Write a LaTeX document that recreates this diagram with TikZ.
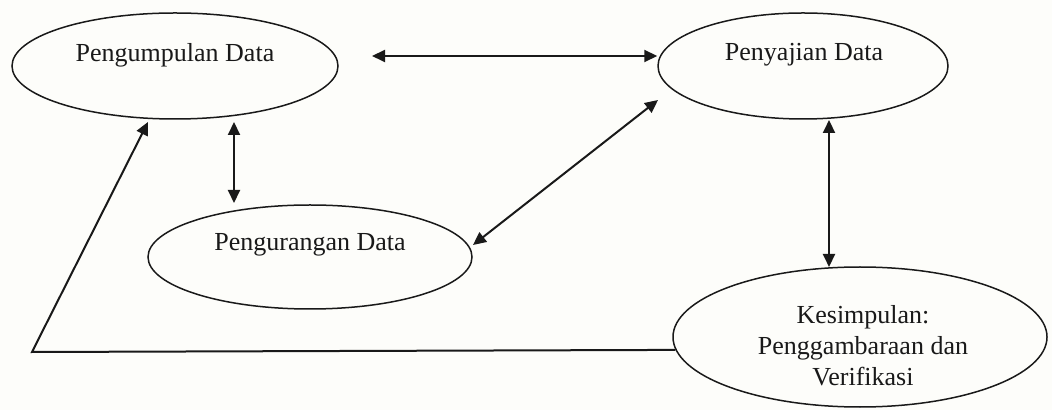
\documentclass[tikz,border=0pt]{standalone}
\usepackage{fontspec}
\setmainfont{Liberation Serif}
\usetikzlibrary{arrows.meta,shapes.geometric}
\definecolor{paper}{RGB}{253,253,250}
\definecolor{ink}{RGB}{25,25,25}
\begin{document}
\begin{tikzpicture}[x=0.5pt,y=-0.5pt,
  stage/.style={ellipse,draw=ink,line width=0.75pt,inner sep=0pt},
  caption/.style={font=\fontsize{13pt}{15.5pt}\selectfont,text=ink,align=center,inner sep=0pt},
  link/.style={line width=1pt,draw=ink},
  head/.style={Triangle[length=6.5pt,width=6pt]},
  onehead/.style={-{Triangle[length=6.5pt,width=6pt]}},
  twohead/.style={{Triangle[length=6.5pt,width=6pt]}-{Triangle[length=6.5pt,width=6pt]}}]

  % page
  \fill[paper] (0,0) rectangle (1052,410);

  % the four stages
  \node[stage,minimum width=163pt,minimum height=53pt] (collect) at (175,66) {};
  \node[caption] (collect-t) at (175,55) {Pengumpulan Data};

  \node[stage,minimum width=145pt,minimum height=53pt] (present) at (803,66) {};
  \node[caption] (present-t) at (804,55) {Penyajian Data};

  \node[stage,minimum width=162pt,minimum height=52pt] (reduce) at (310,257) {};
  \node[caption] (reduce-t) at (310,245) {Pengurangan Data};

  \node[stage,minimum width=187pt,minimum height=70pt] (conclude) at (860,337) {};
  \node[caption] (conclude-t) at (863,346) {Kesimpulan:\\Penggambaraan dan\\Verifikasi};

  % connector end points
  \coordinate (h-left) at (372,56);
  \coordinate (v1-top) at (234,122);
  \coordinate (v1-bot) at (234,203);
  \coordinate (d-low) at (473,245);
  \coordinate (d-high) at (658,100);
  \coordinate (v2-top) at (829,120);
  \coordinate (v2-bot) at (829,267);
  \coordinate (corner) at (32,352);
  \coordinate (fb-tip) at (148,122);

  % interactions
  \draw[link,twohead] (h-left) -- (h-left -| present.west);
  \draw[link,twohead] (v1-top) -- (v1-bot);
  \draw[link,twohead] (d-low) -- (d-high);
  \draw[link,twohead] (v2-top) -- (v2-bot);
  \draw[link,onehead] (conclude.184.8) -- (corner) -- (fb-tip);
\end{tikzpicture}
\end{document}
